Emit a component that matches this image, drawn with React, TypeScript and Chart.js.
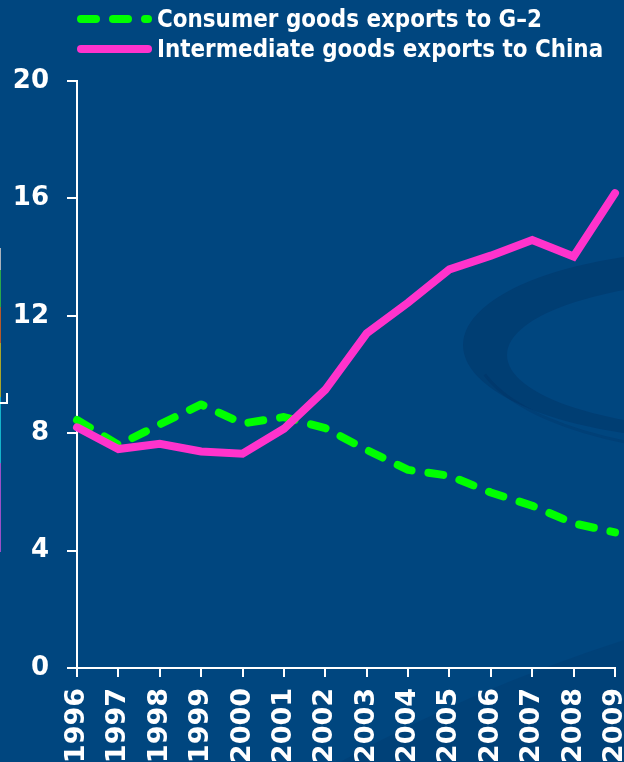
import { useEffect, useRef } from "react";
import { Chart, registerables } from "chart.js";

Chart.register(...registerables);

// Export shares (%), 1996–2009
const years = ["1996", "1997", "1998", "1999", "2000", "2001", "2002", "2003", "2004", "2005", "2006", "2007", "2008", "2009"];
const consumerToG2 = [8.45, 7.6, 8.3, 8.98, 8.33, 8.55, 8.17, 7.43, 6.75, 6.55, 5.98, 5.53, 4.93, 4.62];
const intermediateToChina = [8.2, 7.46, 7.64, 7.38, 7.3, 8.15, 9.48, 11.4, 12.45, 13.58, 14.05, 14.58, 14.02, 16.18];
const yTicks = [0, 4, 8, 12, 16, 20];
const seriesNames = ["Consumer goods exports to G\u20132", "Intermediate goods exports to China"];

const BG = "#00467f";
const GREEN = "#00ff00";
const PINK = "#ff33cc";
const FONT = "'DejaVu Sans', 'Liberation Sans', sans-serif";

// Faint crescent and shading painted behind the plot
const backdrop = {
  id: "backdrop",
  beforeDraw(chart: any) {
    const { ctx, width, height } = chart;
    ctx.save();
    ctx.fillStyle = "rgba(0, 30, 70, 0.2)";
    ctx.beginPath();
    ctx.ellipse(width + 96, 345, 257, 95, 0, 0, Math.PI * 2);
    ctx.moveTo(width + 116 + 233, 355);
    ctx.ellipse(width + 116, 355, 233, 75, 0, 0, Math.PI * 2);
    ctx.fill("evenodd");

    ctx.strokeStyle = "rgba(0, 30, 70, 0.14)";
    ctx.lineWidth = 3;
    ctx.beginPath();
    ctx.ellipse(width + 110, 340, 262, 112, 0, Math.PI * 0.9, Math.PI * 0.6, true);
    ctx.stroke();

    ctx.fillStyle = "rgba(0, 30, 70, 0.12)";
    ctx.beginPath();
    ctx.moveTo(340, height);
    ctx.quadraticCurveTo(470, 690, width, 640);
    ctx.lineTo(width, height);
    ctx.closePath();
    ctx.fill();
    ctx.restore();
  },
};

// Two-row legend with line samples above the plot
const lineLegend = {
  id: "lineLegend",
  afterDraw(chart: any) {
    const { ctx, chartArea } = chart;
    const rows = [
      { ds: chart.data.datasets[1], y: 19, base: 27 },
      { ds: chart.data.datasets[0], y: 49, base: 57 },
    ];
    const x0 = chartArea.left;
    const x1 = x0 + 75;
    ctx.save();
    rows.forEach((r) => {
      ctx.strokeStyle = r.ds.borderColor;
      ctx.lineWidth = r.ds.borderWidth;
      ctx.lineCap = "round";
      ctx.setLineDash(r.ds.borderDash || []);
      ctx.beginPath();
      ctx.moveTo(x0 + 4, r.y);
      ctx.lineTo(x1 - 4, r.y);
      ctx.stroke();
      ctx.setLineDash([]);
      ctx.fillStyle = "#ffffff";
      ctx.font = `bold 24px ${FONT}`;
      ctx.textAlign = "left";
      ctx.textBaseline = "alphabetic";
      ctx.save();
      ctx.translate(x1 + 5, r.base);
      ctx.scale(0.895, 1);
      ctx.fillText(r.ds.label, 0, 0);
      ctx.restore();
    });
    ctx.restore();
  },
};

export default function App() {
  const ref = useRef<HTMLCanvasElement>(null);

  useEffect(() => {
    if (!ref.current) return;
    const chart = new Chart(ref.current, {
      type: "line",
      data: {
        labels: years,
        datasets: [
          {
            label: seriesNames[1],
            data: intermediateToChina,
            borderColor: PINK,
            backgroundColor: PINK,
            borderWidth: 8,
            borderCapStyle: "round",
            borderJoinStyle: "miter",
            pointRadius: 0,
            tension: 0,
            clip: 10,
          },
          {
            label: seriesNames[0],
            data: consumerToG2,
            borderColor: GREEN,
            backgroundColor: GREEN,
            borderWidth: 8,
            borderDash: [15, 17],
            borderCapStyle: "round",
            borderJoinStyle: "round",
            pointRadius: 0,
            tension: 0,
            clip: 10,
          },
        ],
      },
      options: {
        animation: false,
        responsive: false,
        devicePixelRatio: 1,
        events: [],
        layout: { padding: { top: 81, right: 9, left: 0, bottom: 0 } },
        plugins: { legend: { display: false }, tooltip: { enabled: false } },
        scales: {
          x: {
            type: "category",
            offset: false,
            grid: {
              display: true,
              drawOnChartArea: false,
              drawTicks: true,
              tickLength: 9,
              color: "#ffffff",
              lineWidth: 2,
              offset: false,
            },
            border: { display: true, color: "#ffffff", width: 2 },
            ticks: {
              color: "#ffffff",
              font: { family: FONT, size: 27, weight: "bold" },
              minRotation: 90,
              maxRotation: 90,
              autoSkip: false,
              padding: 11,
            },
            afterFit(scale: any) {
              scale.height = 94;
              scale.paddingLeft = 0;
              scale.paddingRight = 0;
            },
          },
          y: {
            min: 0,
            max: 20,
            afterBuildTicks(scale: any) {
              scale.ticks = yTicks.map((v) => ({ value: v }));
            },
            grid: {
              display: true,
              drawOnChartArea: false,
              drawTicks: true,
              tickLength: 10,
              color: "#ffffff",
              lineWidth: 2,
            },
            border: { display: true, color: "#ffffff", width: 2 },
            ticks: {
              color: "#ffffff",
              font: { family: FONT, size: 26, weight: "bold" },
              padding: 18,
            },
            afterFit(scale: any) {
              scale.width = 77;
              scale.paddingTop = 0;
              scale.paddingBottom = 0;
            },
          },
        },
      },
      plugins: [backdrop, lineLegend],
    });
    return () => chart.destroy();
  }, []);

  const strip = [
    { top: 248, h: 22, c: "#a9b3bd" },
    { top: 270, h: 37, c: "#2aa84a" },
    { top: 307, h: 36, c: "#b5592a" },
    { top: 343, h: 54, c: "#a8a52a" },
    { top: 397, h: 66, c: "#14b4cc" },
    { top: 463, h: 89, c: "#9a4fc8" },
  ];

  return (
    <div
      style={{
        position: "fixed",
        left: 0,
        top: 0,
        width: 624,
        height: 762,
        overflow: "hidden",
        background: BG,
      }}
    >
      <canvas ref={ref} width={624} height={762} style={{ display: "block", width: 624, height: 762 }} />
      {strip.map((s, i) => (
        <div key={i} style={{ position: "absolute", left: 0, top: s.top, width: 1, height: s.h, background: s.c }} />
      ))}
      <div style={{ position: "absolute", left: 0, top: 402, width: 8, height: 2, background: "#ffffff" }} />
      <div style={{ position: "absolute", left: 6, top: 393, width: 2, height: 11, background: "#ffffff" }} />
    </div>
  );
}
